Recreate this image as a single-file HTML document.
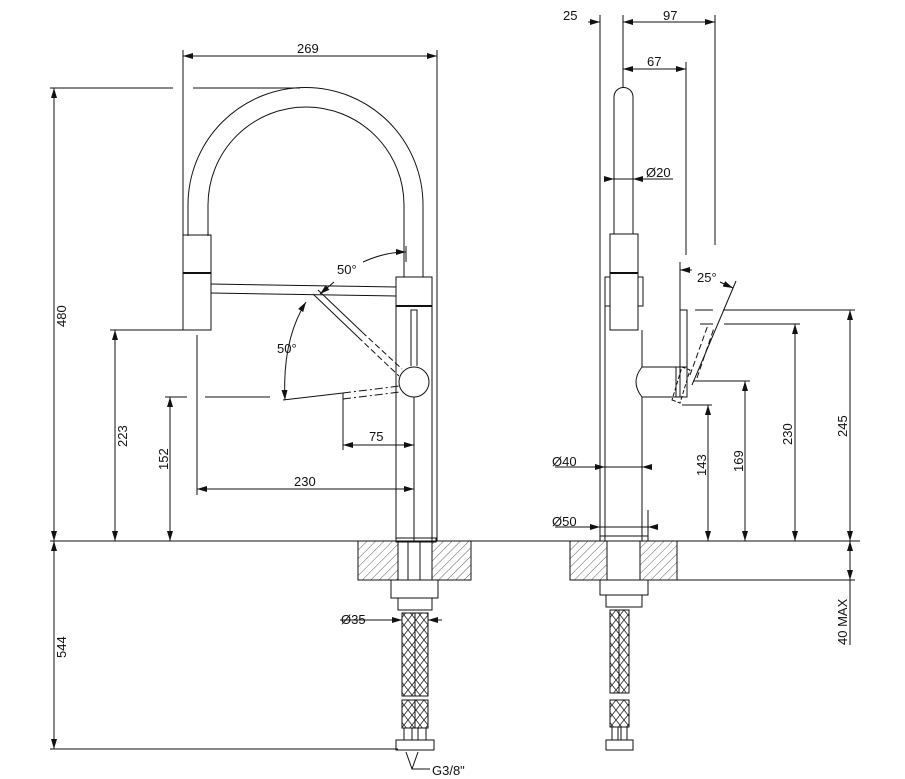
<!DOCTYPE html>
<html><head><meta charset="utf-8"><style>
html,body{margin:0;padding:0;background:#fff}
svg{display:block}
text{font-family:"Liberation Sans",sans-serif;font-size:13px;fill:#111}
</style></head><body>
<svg width="905" height="779" viewBox="0 0 905 779" xmlns="http://www.w3.org/2000/svg">
<defs>
<pattern id="h" width="6" height="6" patternUnits="userSpaceOnUse" patternTransform="rotate(45)">
<line x1="0" y1="0" x2="0" y2="6" stroke="#333" stroke-width="0.8"/></pattern>
<pattern id="b" width="8" height="10" patternUnits="userSpaceOnUse">
<path d="M0 0L8 10M8 0L0 10" stroke="#222" stroke-width="0.8" fill="none"/></pattern>
<marker id="a" markerWidth="10" markerHeight="6" refX="10" refY="3" orient="auto-start-reverse" markerUnits="userSpaceOnUse">
<path d="M0 0L10 3L0 6z" fill="#111"/></marker>
</defs>
<g stroke="#111" stroke-width="1" fill="none">
<!-- ground line -->
<line x1="50" y1="541" x2="860" y2="541"/>

<!-- ===== LEFT VIEW ===== -->
<!-- arc hose -->
<path d="M188 236 L188 205 A117.5 117.5 0 0 1 423 205 L423 277"/>
<path d="M208 236 L208 205 A98 98 0 0 1 404 205 L404 277"/>
<!-- head -->
<rect x="183" y="235" width="28" height="95"/>
<line x1="183" y1="273" x2="211" y2="273" stroke-width="2"/>
<!-- horizontal bar -->
<path d="M211 284 L396 287 M211 293 L396 296"/>
<!-- body -->
<rect x="396" y="277" width="36" height="264"/>
<line x1="396" y1="306" x2="432" y2="306" stroke-width="2"/>
<path d="M411 366 L411 310 L417 310 L417 366"/>
<line x1="414" y1="397" x2="414" y2="541"/>
<circle cx="414" cy="382" r="15" fill="#fff"/>
<line x1="437" y1="50" x2="437" y2="541"/>
<line x1="183" y1="50" x2="183" y2="236"/>
<!-- handle raised -->
<path d="M313 294 L358 337 M318 290 L362 332"/>
<path d="M358 337 L399 376 M362 332 L402 369" stroke-dasharray="6 3"/>
<!-- handle lowered -->
<path d="M283 400 L343 393"/>
<path d="M343 393 L400 386 M343 399 L400 392" stroke-dasharray="8 3 2 3"/>
<line x1="343" y1="393" x2="343" y2="450"/>
<!-- angles -->
<path d="M363 262 Q385 252 406 252" marker-end="url(#a)"/>
<line x1="406" y1="246" x2="406" y2="262"/>
<path d="M334 282 L320 294" marker-end="url(#a)"/>
<path d="M306 302 Q282 340 285 400" marker-start="url(#a)" marker-end="url(#a)"/>
<!-- dims left -->
<line x1="183" y1="56" x2="437" y2="56" marker-start="url(#a)" marker-end="url(#a)"/>
<path d="M50 88 L173 88 M193 88 L300 88"/>
<line x1="54" y1="88" x2="54" y2="541" marker-start="url(#a)" marker-end="url(#a)"/>
<line x1="54" y1="541" x2="54" y2="749" marker-start="url(#a)" marker-end="url(#a)"/>
<line x1="50" y1="749" x2="398" y2="749"/>
<line x1="110" y1="330" x2="183" y2="330"/>
<line x1="115" y1="330" x2="115" y2="541" marker-start="url(#a)" marker-end="url(#a)"/>
<path d="M165 397 L187 397 M205 397 L270 397"/>
<line x1="170" y1="397" x2="170" y2="541" marker-start="url(#a)" marker-end="url(#a)"/>
<line x1="197" y1="335" x2="197" y2="495"/>
<line x1="197" y1="489" x2="414" y2="489" marker-start="url(#a)" marker-end="url(#a)"/>
<line x1="343" y1="445" x2="414" y2="445" marker-start="url(#a)" marker-end="url(#a)"/>
<!-- base left -->
<rect x="358" y="541" width="40" height="39" fill="url(#h)"/>
<rect x="432" y="541" width="39" height="39" fill="url(#h)"/>
<rect x="396" y="538" width="40" height="4"/>
<path d="M398 541 L398 580 M432 541 L432 580 M408 541 L408 580 M420 541 L420 580"/>
<rect x="391" y="580" width="47" height="18"/>
<rect x="398" y="598" width="34" height="12"/>
<rect x="402" y="613" width="26" height="83" fill="url(#b)"/>
<line x1="415" y1="613" x2="415" y2="696"/>
<rect x="402" y="700" width="26" height="28" fill="url(#b)"/>
<line x1="415" y1="700" x2="415" y2="728"/>
<path d="M404 728 L404 740 M412 728 L412 740 M418 728 L418 740 M426 728 L426 740"/>
<rect x="396" y="740" width="38" height="10"/>
<line x1="388" y1="620" x2="402" y2="620" marker-end="url(#a)"/>
<line x1="442" y1="620" x2="428" y2="620" marker-end="url(#a)"/>
<line x1="340" y1="620" x2="388" y2="620"/>
<path d="M430 769 L412 769 L406 752 M412 769 L418 752"/>

<!-- ===== RIGHT VIEW ===== -->
<path d="M614 234 L614 97 A9.5 9.5 0 0 1 633 97 L633 234"/>
<line x1="623" y1="15" x2="623" y2="88"/>
<rect x="610" y="234" width="28" height="96"/>
<line x1="610" y1="273" x2="638" y2="273" stroke-width="2"/>
<path d="M610 277 L605 277 L605 306 L610 306 M638 277 L643 277 L643 306 L638 306"/>
<path d="M605 306 L605 541 M642 330 L642 367 M642 397 L642 541"/>
<path d="M642 367 L680 367 L680 397 L642 397 Q630 382 642 367"/>
<rect x="680" y="310" width="7" height="57"/>
<rect x="676" y="367" width="11" height="30"/>
<path d="M672 400 L680 403 L690 370 L682 367 Z" stroke-dasharray="4 2"/>
<path d="M690 375 L708 325 M697 378 L714 328" stroke-dasharray="6 3"/>
<line x1="692" y1="385" x2="736" y2="281"/>
<line x1="680" y1="262" x2="680" y2="310"/>
<line x1="680" y1="270" x2="692" y2="270" marker-start="url(#a)"/>
<line x1="720" y1="282" x2="733" y2="288" marker-end="url(#a)"/>
<!-- right dims -->
<line x1="600" y1="15" x2="600" y2="541"/>
<line x1="648" y1="510" x2="648" y2="541"/>
<line x1="715" y1="15" x2="715" y2="245"/>
<line x1="686" y1="62" x2="686" y2="255"/>
<line x1="588" y1="22" x2="600" y2="22" marker-end="url(#a)"/>
<line x1="640" y1="22" x2="623" y2="22" marker-end="url(#a)"/>
<line x1="623" y1="22" x2="715" y2="22" marker-end="url(#a)"/>
<line x1="623" y1="69" x2="686" y2="69" marker-start="url(#a)" marker-end="url(#a)"/>
<line x1="604" y1="179" x2="614" y2="179" marker-end="url(#a)"/>
<line x1="643" y1="179" x2="633" y2="179" marker-end="url(#a)"/>
<line x1="614" y1="179" x2="673" y2="179"/>
<line x1="555" y1="467" x2="605" y2="467" marker-end="url(#a)"/>
<line x1="652" y1="467" x2="642" y2="467" marker-end="url(#a)"/>
<line x1="605" y1="467" x2="642" y2="467"/>
<line x1="555" y1="527" x2="600" y2="527" marker-end="url(#a)"/>
<line x1="658" y1="527" x2="648" y2="527" marker-end="url(#a)"/>
<line x1="600" y1="527" x2="648" y2="527"/>
<path d="M695 310 L713 310 M723 310 L855 310"/>
<path d="M700 324 L713 324 M724 324 L800 324"/>
<line x1="693" y1="381" x2="750" y2="381"/>
<line x1="682" y1="405" x2="712" y2="405"/>
<line x1="850" y1="310" x2="850" y2="541" marker-start="url(#a)" marker-end="url(#a)"/>
<line x1="795" y1="324" x2="795" y2="541" marker-start="url(#a)" marker-end="url(#a)"/>
<line x1="745" y1="381" x2="745" y2="541" marker-start="url(#a)" marker-end="url(#a)"/>
<line x1="708" y1="405" x2="708" y2="541" marker-start="url(#a)" marker-end="url(#a)"/>
<line x1="677" y1="580" x2="855" y2="580"/>
<line x1="850" y1="541" x2="850" y2="580" marker-start="url(#a)" marker-end="url(#a)"/>
<line x1="850" y1="580" x2="850" y2="645"/>
<!-- base right -->
<rect x="570" y="541" width="37" height="39" fill="url(#h)"/>
<rect x="640" y="541" width="37" height="39" fill="url(#h)"/>
<rect x="600" y="536" width="48" height="5"/>
<rect x="600" y="580" width="48" height="15"/>
<rect x="606" y="595" width="36" height="12"/>
<rect x="610" y="610" width="19" height="83" fill="url(#b)"/>
<line x1="619" y1="610" x2="619" y2="693"/>
<rect x="610" y="700" width="19" height="27" fill="url(#b)"/>
<path d="M612 727 L612 740 M618 727 L618 740 M621 727 L621 740 M627 727 L627 740"/>
<rect x="606" y="740" width="27" height="10"/>
</g>
<g>
<text x="297" y="53">269</text>
<text x="337" y="274">50°</text>
<text x="277" y="353">50°</text>
<text x="369" y="441">75</text>
<text x="294" y="486">230</text>
<text x="341" y="624">Ø35</text>
<text x="432" y="775">G3/8"</text>
<text transform="translate(66,327) rotate(-90)">480</text>
<text transform="translate(66,658) rotate(-90)">544</text>
<text transform="translate(127,447) rotate(-90)">223</text>
<text transform="translate(168,470) rotate(-90)">152</text>
<text x="563" y="20">25</text>
<text x="663" y="20">97</text>
<text x="647" y="66">67</text>
<text x="646" y="177">Ø20</text>
<text x="697" y="282">25°</text>
<text x="552" y="466">Ø40</text>
<text x="552" y="526">Ø50</text>
<text transform="translate(706,476) rotate(-90)">143</text>
<text transform="translate(743,472) rotate(-90)">169</text>
<text transform="translate(792,445) rotate(-90)">230</text>
<text transform="translate(847,437) rotate(-90)">245</text>
<text transform="translate(847,645) rotate(-90)">40 MAX</text>
</g>
</svg>
</body></html>
